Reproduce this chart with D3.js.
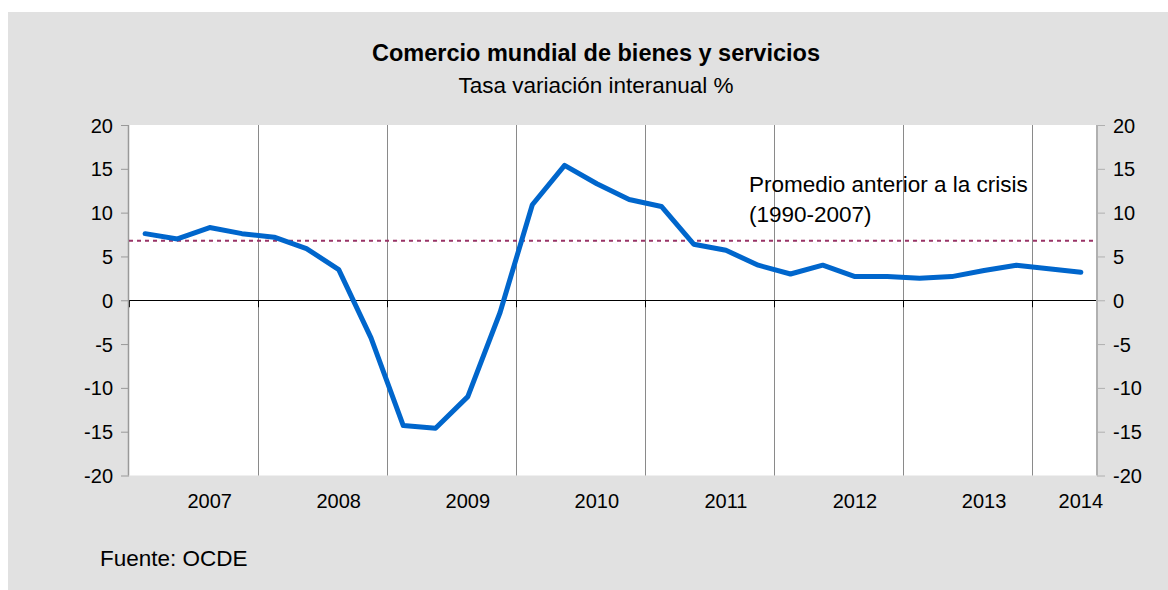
<!DOCTYPE html>
<html><head><meta charset="utf-8">
<script src="https://cdn.jsdelivr.net/npm/d3@7"></script>
<style>
html,body{margin:0;padding:0;background:#fff;}
text{font-family:"Liberation Sans",Arial,sans-serif;fill:#000;}
</style></head>
<body>
<svg id="c" width="1168" height="590"></svg>
<script>
const quarters = ["2007Q1","2007Q2","2007Q3","2007Q4","2008Q1","2008Q2","2008Q3","2008Q4","2009Q1","2009Q2","2009Q3","2009Q4","2010Q1","2010Q2","2010Q3","2010Q4","2011Q1","2011Q2","2011Q3","2011Q4","2012Q1","2012Q2","2012Q3","2012Q4","2013Q1","2013Q2","2013Q3","2013Q4","2014Q1","2014Q2"];
const values = [7.6,7.0,8.3,7.6,7.2,5.9,3.5,-4.3,-14.3,-14.6,-11.0,-1.4,10.9,15.4,13.3,11.5,10.7,6.4,5.7,4.0,3.0,4.0,2.7,2.7,2.5,2.7,3.4,4.0,3.6,3.2];
const averagePreCrisis = 6.8;
const yTicks = [20,15,10,5,0,-5,-10,-15,-20];
const yearLabels = [
  {label:"2007", at:"2007Q3"},{label:"2008", at:"2008Q3"},{label:"2009", at:"2009Q3"},
  {label:"2010", at:"2010Q3"},{label:"2011", at:"2011Q3"},{label:"2012", at:"2012Q3"},
  {label:"2013", at:"2013Q3"},{label:"2014", at:"2014Q2"}];
const yearBoundaries = ["2008Q1","2009Q1","2010Q1","2011Q1","2012Q1","2013Q1","2014Q1"];

const svg = d3.select("#c");
svg.append("rect").attr("x",8).attr("y",12).attr("width",1160).attr("height",578).attr("fill","#e1e1e1");

const L=129, R=1097, T=125, B=475.5;
const x = d3.scaleBand().domain(quarters).range([L,R]);
const y = d3.scaleLinear().domain([-20,20]).range([B,T]);

svg.append("rect").attr("x",L).attr("y",T).attr("width",R-L).attr("height",B-T).attr("fill","#fff");

// vertical gridlines at year boundaries
svg.append("g").selectAll("line").data(yearBoundaries).join("line")
  .attr("x1",d=>Math.round(x(d))+0.5).attr("x2",d=>Math.round(x(d))+0.5)
  .attr("y1",T).attr("y2",B).attr("stroke","#8a8a8a").attr("stroke-width",1);

// zero line with ticks
svg.append("line").attr("x1",L).attr("x2",R).attr("y1",Math.round(y(0))+0.5).attr("y2",Math.round(y(0))+0.5)
  .attr("stroke","#000").attr("stroke-width",1);
svg.append("g").selectAll("line").data([quarters[0]].concat(yearBoundaries)).join("line")
  .attr("x1",d=>Math.round(x(d))+0.5).attr("x2",d=>Math.round(x(d))+0.5)
  .attr("y1",y(0)).attr("y2",y(0)+7).attr("stroke","#000").attr("stroke-width",1);

const fmt = d => String(d);

// left axis
const yl = svg.append("g").attr("transform",`translate(${L},0)`)
  .call(d3.axisLeft(y).tickValues(yTicks).tickSize(8).tickPadding(8).tickFormat(fmt));
yl.select(".domain").attr("stroke","#999").attr("stroke-width",1.5).attr("d",`M-0.5,${T}V${B}`);
yl.selectAll(".tick line").attr("stroke","#999");
yl.selectAll(".tick text").style("font-size","20px").style("font-family","Liberation Sans, Arial, sans-serif").attr("fill","#000").attr("dy","0.35em");

// right axis
const yr = svg.append("g").attr("transform",`translate(${R},0)`)
  .call(d3.axisRight(y).tickValues(yTicks).tickSize(8).tickPadding(8).tickFormat(fmt));
yr.select(".domain").attr("stroke","#b0b0b0").attr("stroke-width",2).attr("d",`M0,${T}V${B}`);
yr.selectAll(".tick line").attr("stroke","#b0b0b0");
yr.selectAll(".tick text").style("font-size","20px").style("font-family","Liberation Sans, Arial, sans-serif").attr("fill","#000").attr("dy","0.35em");

// x labels
svg.append("g").selectAll("text").data(yearLabels).join("text")
  .attr("x",d=>x(d.at)+x.bandwidth()/2).attr("y",508).attr("text-anchor","middle")
  .style("font-size","20px").text(d=>d.label);

// average dashed line
svg.append("line").attr("x1",L).attr("x2",R).attr("y1",y(averagePreCrisis)).attr("y2",y(averagePreCrisis))
  .attr("stroke","#993366").attr("stroke-width",2).attr("stroke-dasharray","4,4");

// data line
const line = d3.line().x((d,i)=>x(quarters[i])+x.bandwidth()/2).y(d=>y(d));
svg.append("path").datum(values).attr("d",line).attr("fill","none")
  .attr("stroke","#0066cc").attr("stroke-width",5).attr("stroke-linejoin","round").attr("stroke-linecap","round");

// annotation
svg.append("text").attr("x",749).attr("y",192).style("font-size","22.5px").text("Promedio anterior a la crisis");
svg.append("text").attr("x",749).attr("y",222).style("font-size","22.5px").text("(1990-2007)");

// titles
svg.append("text").attr("x",596).attr("y",61).attr("text-anchor","middle").style("font-size","23.5px").style("font-weight","bold").text("Comercio mundial de bienes y servicios");
svg.append("text").attr("x",596).attr("y",93).attr("text-anchor","middle").style("font-size","22.5px").text("Tasa variación interanual %");

svg.append("text").attr("x",100).attr("y",566).style("font-size","22.5px").text("Fuente: OCDE");
</script>
</body></html>
